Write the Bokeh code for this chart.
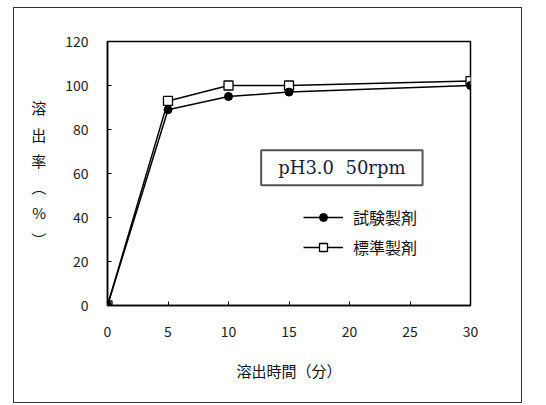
from bokeh.plotting import figure
from bokeh.models import Label, Legend, LegendItem, FixedTicker, Range1d
from bokeh.embed import file_html
from bokeh.resources import INLINE

# data
times = [0, 5, 10, 15, 30]
test_vals = [0, 89, 95, 97, 100]       # 試験製剤
std_vals = [0, 93, 100, 100, 102]      # 標準製剤
x_ticks = [0, 5, 10, 15, 20, 25, 30]
y_ticks = [0, 20, 40, 60, 80, 100, 120]
test_name = "試験製剤"
std_name = "標準製剤"
cond_text = "pH3.0\u00a0\u00a050rpm"
x_title = "溶出時間（分）"
y_title = "溶\n出\n率\n︵\n%\n︶"

CJK = "Noto Sans CJK JP"

p = figure(width=509, height=396, output_backend="svg", toolbar_location=None,
           x_range=Range1d(0, 30), y_range=Range1d(0, 120),
           min_border_left=93, min_border_right=53, min_border_top=33, min_border_bottom=99)
p.margin = (7, 0, 0, 13)
p.styles = {"border": "1px solid #333333"}
p.xgrid.visible = False
p.ygrid.visible = False
p.outline_line_color = "black"
p.outline_line_width = 1.5
p.background_fill_color = "white"
p.border_fill_color = "white"

for ax in (p.xaxis[0], p.yaxis[0]):
    ax.major_tick_in = 4
    ax.major_tick_out = 0
    ax.minor_tick_line_color = None
    ax.axis_line_color = "black"
    ax.axis_line_width = 1.5
    ax.major_tick_line_color = "black"
    ax.major_label_text_font = CJK
    ax.major_label_text_font_size = "14px"
    ax.major_label_text_color = "#222222"
    ax.axis_label_text_font = CJK
    ax.axis_label_text_font_size = "15px"
    ax.axis_label_text_font_style = "normal"
    ax.axis_label_text_color = "#111111"

p.xaxis.ticker = FixedTicker(ticks=x_ticks)
p.yaxis.ticker = FixedTicker(ticks=y_ticks)
p.xaxis.major_label_standoff = 20
p.yaxis.major_label_standoff = 19
p.xaxis.axis_label = x_title
p.xaxis.axis_label_standoff = 20
p.yaxis.axis_label = y_title
p.yaxis.axis_label_orientation = "horizontal"
p.yaxis.axis_label_standoff = 16
p.yaxis.axis_label_text_line_height = 1.25

l_std = p.line(times, std_vals, line_color="black", line_width=1.5)
s_std = p.scatter(times, std_vals, marker="square", size=9, fill_color="white",
                  line_color="black", line_width=1.3)
l_test = p.line(times, test_vals, line_color="black", line_width=1.5)
s_test = p.scatter(times, test_vals, marker="circle", size=8, fill_color="black",
                   line_color="black")

legend = Legend(items=[LegendItem(label=test_name, renderers=[l_test, s_test]),
                       LegendItem(label=std_name, renderers=[l_std, s_std])],
                location=(196, 46), orientation="vertical",
                glyph_width=40, glyph_height=20, label_height=20, spacing=6,
                padding=0, margin=0,
                label_standoff=10, label_text_font=CJK, label_text_font_size="16px",
                label_text_color="#111111",
                border_line_color=None, background_fill_alpha=0)
p.add_layout(legend)

box = Label(x=12.7, y=62.6, text=cond_text, text_font="DejaVu Serif",
            text_font_size="18px", text_color="#1c1c3c", text_baseline="middle",
            text_align="left", padding=(17, 7),
            border_line_color="#555555", border_line_width=2,
            background_fill_color="white")
p.add_layout(box)

open("out.html", "w").write(file_html(p, INLINE))
